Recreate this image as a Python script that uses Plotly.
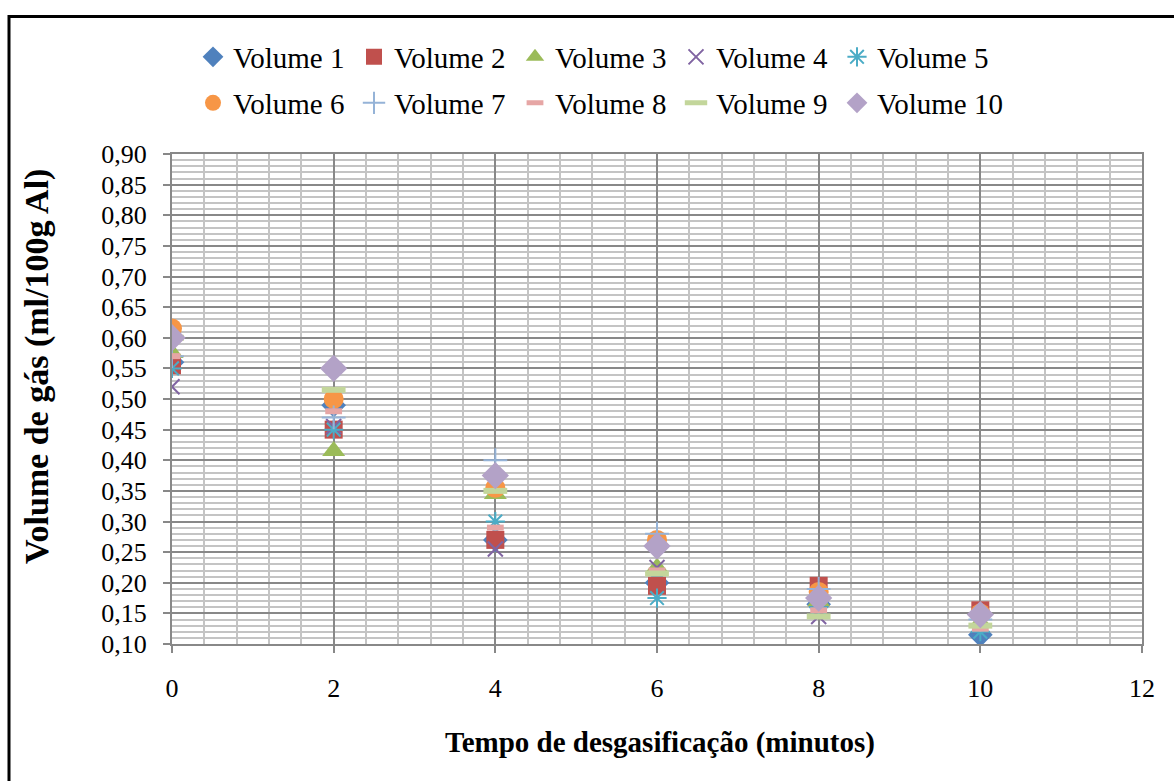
import plotly.graph_objects as go

tempo = [0, 2, 4, 6, 8, 10]
v1 = [0.56, 0.49, 0.27, 0.20, 0.165, 0.115]
v2 = [0.555, 0.45, 0.27, 0.195, 0.195, 0.155]
v3 = [0.575, 0.415, 0.345, 0.225, 0.17, 0.135]
v4 = [0.52, 0.455, 0.255, 0.225, 0.145, 0.13]
v5 = [0.55, 0.45, 0.30, 0.175, 0.16, 0.12]
v6 = [0.615, 0.50, 0.355, 0.27, 0.185, 0.15]
v7 = [0.57, 0.47, 0.40, 0.28, 0.19, 0.14]
v8 = [0.57, 0.48, 0.29, 0.22, 0.155, 0.125]
v9 = [0.60, 0.515, 0.35, 0.215, 0.145, 0.13]
v10 = [0.60, 0.55, 0.375, 0.26, 0.175, 0.148]
names = ["Volume 1", "Volume 2", "Volume 3", "Volume 4", "Volume 5",
         "Volume 6", "Volume 7", "Volume 8", "Volume 9", "Volume 10"]
series = [v1, v2, v3, v4, v5, v6, v7, v8, v9, v10]

styles = [
    dict(symbol="diamond", size=19, color="#4F81BD"),
    dict(symbol="square", size=18, color="#C0504D"),
    dict(symbol="triangle-up", size=20, color="#9BBB59"),
    dict(symbol="x-thin", size=15, color="#8064A2", line=dict(width=2, color="#8064A2")),
    dict(symbol="asterisk", size=16, color="#4BACC6", line=dict(width=2, color="#4BACC6")),
    dict(symbol="circle", size=20, color="#F79646"),
    dict(symbol="cross-thin", size=17, color="#95B3D7", line=dict(width=2, color="#95B3D7")),
    dict(symbol="line-ew", size=12, color="#E6A6A5", line=dict(width=6, color="#E6A6A5")),
    dict(symbol="line-ew", size=17, color="#C3D69B", line=dict(width=6, color="#C3D69B")),
    dict(symbol="diamond", size=21, color="#B3A2C7"),
]

fig = go.Figure()
for i, (n, s, st) in enumerate(zip(names, series, styles)):
    fig.add_trace(go.Scatter(
        x=tempo, y=s, mode="markers", name=n,
        marker=st, legend="legend" if i < 5 else "legend2"))

# empty spacer entry so the last legend label is not clipped
fig.add_trace(go.Scatter(x=[None], y=[None], mode="markers", name=" ",
                         marker=dict(color="rgba(0,0,0,0)", size=1,
                                     line=dict(width=0, color="rgba(0,0,0,0)")),
                         legend="legend2", hoverinfo="skip"))

font = "Liberation Serif"
L, R, T, B = 172, 32, 154, 137
W, H = 1174, 781
pw, ph = W - L - R, H - T - B

def px(x):
    return (x - L) / pw

def py(y):
    return (H - B - y) / ph

leg = dict(orientation="h", x=px(193), xanchor="left", yanchor="middle",
           font=dict(family=font, size=29, color="black"),
           entrywidth=116, entrywidthmode="pixels", bgcolor="rgba(0,0,0,0)",
           itemwidth=30)

fig.update_layout(
    width=W, height=H,
    margin=dict(l=L, r=R, t=T, b=B),
    paper_bgcolor="white", plot_bgcolor="white",
    separators=",.",
    font=dict(family=font, size=26, color="black"),
    legend=dict(leg, y=py(57)),
    legend2=dict(leg, y=py(103)),
    xaxis=dict(range=[0, 12], dtick=2, tick0=0, showline=True, linecolor="#888888",
               linewidth=2, mirror=True, ticks="outside", ticklen=7, tickcolor="#888888",
               tickwidth=2, showgrid=True, gridcolor="#888888", gridwidth=2,
               ticklabelstandoff=13, zeroline=False,
               minor=dict(dtick=0.4, showgrid=True, gridcolor="#C4C4C4", gridwidth=2),
               tickfont=dict(family=font, size=26, color="black")),
    yaxis=dict(range=[0.10, 0.90], dtick=0.05, tick0=0.10, tickformat=".2f",
               showline=True, linecolor="#888888", linewidth=2, mirror=True,
               ticks="outside", ticklen=7, tickcolor="#888888", tickwidth=2,
               showgrid=True, gridcolor="#888888", gridwidth=2, zeroline=False,
               ticklabelstandoff=11,
               minor=dict(dtick=0.01, showgrid=True, gridcolor="#C4C4C4", gridwidth=2),
               tickfont=dict(family=font, size=26, color="black")),
    annotations=[
        dict(text="<b>Tempo de desgasificação (minutos)</b>", xref="paper", yref="paper",
             x=px(660), y=py(742), xanchor="center", yanchor="middle", showarrow=False,
             font=dict(family=font, size=29, color="black")),
        dict(text="<b>Volume de gás (ml/100g Al)</b>", xref="paper", yref="paper",
             x=px(37), y=py(367), xanchor="center", yanchor="middle", showarrow=False,
             textangle=-90, font=dict(family=font, size=34, color="black")),
    ],
    shapes=[dict(type="rect", xref="paper", yref="paper",
                 x0=px(9), x1=px(1200), y0=py(820), y1=py(16.5),
                 line=dict(color="black", width=3), fillcolor="rgba(0,0,0,0)")],
)

fig.write_html("out.html")
